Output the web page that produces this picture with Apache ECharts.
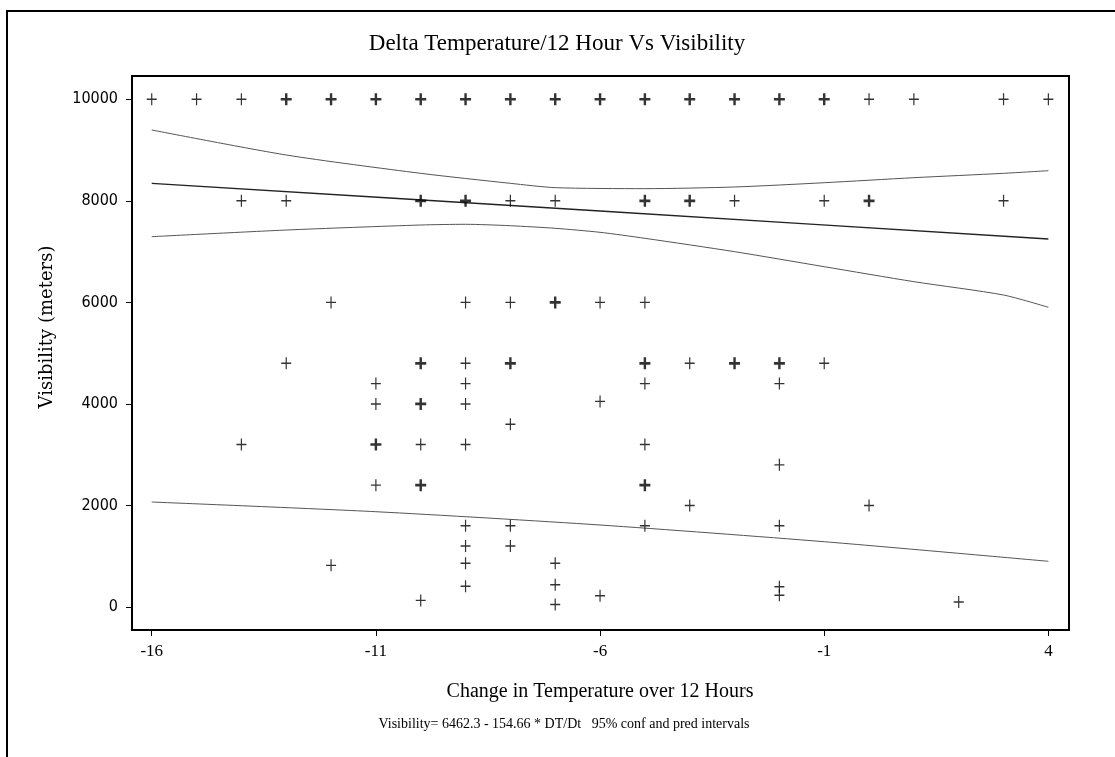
<!DOCTYPE html>
<html>
<head>
<meta charset="utf-8">
<script src="https://cdn.jsdelivr.net/npm/echarts@6/dist/echarts.min.js"></script>
<style>
  html, body { margin: 0; padding: 0; background: #fff; }
  #chart { width: 1115px; height: 757px; }
</style>
</head>
<body>
<div id="chart"></div>
<script>
// tick labels
const xTicks = [-16, -11, -6, -1, 4]
const yTicks = [0, 2000, 4000, 6000, 8000, 10000]

// observations, single marks
const obsSingle = [
  [-16, 10000], [-15, 10000], [-14, 10000], [0, 10000], [1, 10000], [3, 10000], [4, 10000],
  [-14, 8000], [-13, 8000], [-8, 8000], [-7, 8000], [-3, 8000], [-1, 8000], [3, 8000],
  [-12, 6000], [-9, 6000], [-8, 6000], [-6, 6000], [-5, 6000],
  [-13, 4800], [-9, 4800], [-4, 4800], [-1, 4800],
  [-11, 4400], [-9, 4400], [-5, 4400], [-2, 4400],
  [-11, 4000], [-9, 4000], [-6, 4050],
  [-8, 3600],
  [-14, 3200], [-10, 3200], [-9, 3200], [-5, 3200],
  [-2, 2800],
  [-11, 2400],
  [-4, 2000], [0, 2000],
  [-9, 1600], [-8, 1600], [-5, 1600], [-2, 1600],
  [-9, 1200], [-8, 1200],
  [-12, 820], [-9, 860], [-7, 860],
  [-9, 410], [-7, 440], [-2, 400],
  [-6, 220], [-2, 230],
  [-10, 130], [2, 100], [-7, 50]
]

// observations drawn over each other (heavier marks)
const obsRepeat = [
  [-13, 10000], [-12, 10000], [-11, 10000], [-10, 10000], [-9, 10000], [-8, 10000], [-7, 10000],
  [-6, 10000], [-5, 10000], [-4, 10000], [-3, 10000], [-2, 10000], [-1, 10000],
  [-10, 8000], [-9, 8000], [-5, 8000], [-4, 8000], [0, 8000],
  [-7, 6000],
  [-10, 4800], [-8, 4800], [-5, 4800], [-3, 4800], [-2, 4800],
  [-10, 4000],
  [-11, 3200],
  [-10, 2400], [-5, 2400]
]

// regression line and bands
const fitLine = [[-16, 8345], [-6, 7800], [4, 7248]]
const confUpper = [[-16, 9396], [-13, 8903], [-10, 8542], [-8, 8345], [-7, 8260], [-5, 8240],
  [-3, 8273], [-1, 8357], [1, 8456], [3, 8542], [4, 8594]]
const confLower = [[-16, 7294], [-13, 7425], [-10, 7524], [-9, 7538], [-8, 7510], [-7, 7459],
  [-6, 7380], [-5, 7262], [-3, 6999], [-1, 6703], [1, 6408], [3, 6145], [4, 5903]]
const predLower = [[-16, 2068], [-11, 1877], [-6, 1615], [-1, 1286], [4, 900]]

const serif = '"Liberation Serif", "Times New Roman", serif'
const plusThin = 'path://M4.4,0H5.6V10H4.4Z M0,4.4H10V5.6H0Z'
const plusBold = 'path://M3.9,0H6.1V10H3.9Z M0,3.9H10V6.1H0Z'

const bandLine = (name, data, color, width) => ({
  name: name,
  type: 'line',
  data: data,
  smooth: 0.25,
  symbol: 'none',
  silent: true,
  lineStyle: { color: color, width: width },
  z: 2
})

const option = {
  backgroundColor: '#fff',
  animation: false,
  grid: {
    left: 132, right: 46, top: 76, bottom: 127,
    show: true, borderColor: '#000', borderWidth: 2, backgroundColor: 'transparent'
  },
  xAxis: {
    type: 'value',
    min: -16.44,
    max: 4.46,
    axisLine: { show: false, onZero: false },
    splitLine: { show: false },
    axisTick: { show: true, inside: false, length: 6, customValues: xTicks, lineStyle: { color: '#000' } },
    axisLabel: { customValues: xTicks, margin: 13, color: '#000', fontFamily: serif, fontSize: 17 }
  },
  yAxis: {
    type: 'value',
    min: -453,
    max: 10459,
    axisLine: { show: false, onZero: false },
    splitLine: { show: false },
    axisTick: { show: true, inside: false, length: 6, customValues: yTicks, lineStyle: { color: '#000' } },
    axisLabel: {
      customValues: yTicks, margin: 14, color: '#000', fontSize: 16,
      fontFamily: '"Liberation Sans Narrow", "DejaVu Sans Condensed", sans-serif',
      formatter: v => String(v)
    }
  },
  series: [
    bandLine('Upper 95% conf', confUpper, '#555', 1),
    bandLine('Fit', fitLine, '#222', 1.3),
    bandLine('Lower 95% conf', confLower, '#555', 1),
    bandLine('Lower 95% pred', predLower, '#555', 1),
    {
      name: 'Visibility',
      type: 'scatter',
      data: obsSingle,
      symbol: plusThin,
      symbolSize: [10, 12],
      itemStyle: { color: '#000' },
      z: 3
    },
    {
      name: 'Visibility (repeated)',
      type: 'scatter',
      data: obsRepeat,
      symbol: plusBold,
      symbolSize: [11, 12],
      itemStyle: { color: '#000' },
      z: 3
    }
  ],
  graphic: [
    {
      type: 'polyline',
      shape: { points: [[7, 757], [7, 11], [1115, 11]] },
      style: { stroke: '#000', lineWidth: 2, fill: null }
    },
    {
      type: 'text', x: 557, y: 44,
      style: {
        text: 'Delta Temperature/12 Hour Vs Visibility', font: '23px ' + serif,
        fill: '#000', textAlign: 'center', textVerticalAlign: 'middle'
      }
    },
    {
      type: 'text', x: 47, y: 327, rotation: Math.PI / 2,
      style: {
        text: 'Visibility (meters)', font: '18px "DejaVu Serif", serif',
        fill: '#000', textAlign: 'center', textVerticalAlign: 'middle'
      }
    },
    {
      type: 'text', x: 600, y: 692,
      style: {
        text: 'Change in Temperature over 12 Hours', font: '20px ' + serif,
        fill: '#000', textAlign: 'center', textVerticalAlign: 'middle'
      }
    },
    {
      type: 'text', x: 564, y: 724,
      style: {
        text: 'Visibility= 6462.3 - 154.66 * DT/Dt   95% conf and pred intervals', font: '14px ' + serif,
        fill: '#000', textAlign: 'center', textVerticalAlign: 'middle'
      }
    }
  ]
}

const chart = echarts.init(document.getElementById('chart'))
chart.setOption(option)

window.addEventListener('resize', () => {
  chart.resize()
})
</script>
</body>
</html>
